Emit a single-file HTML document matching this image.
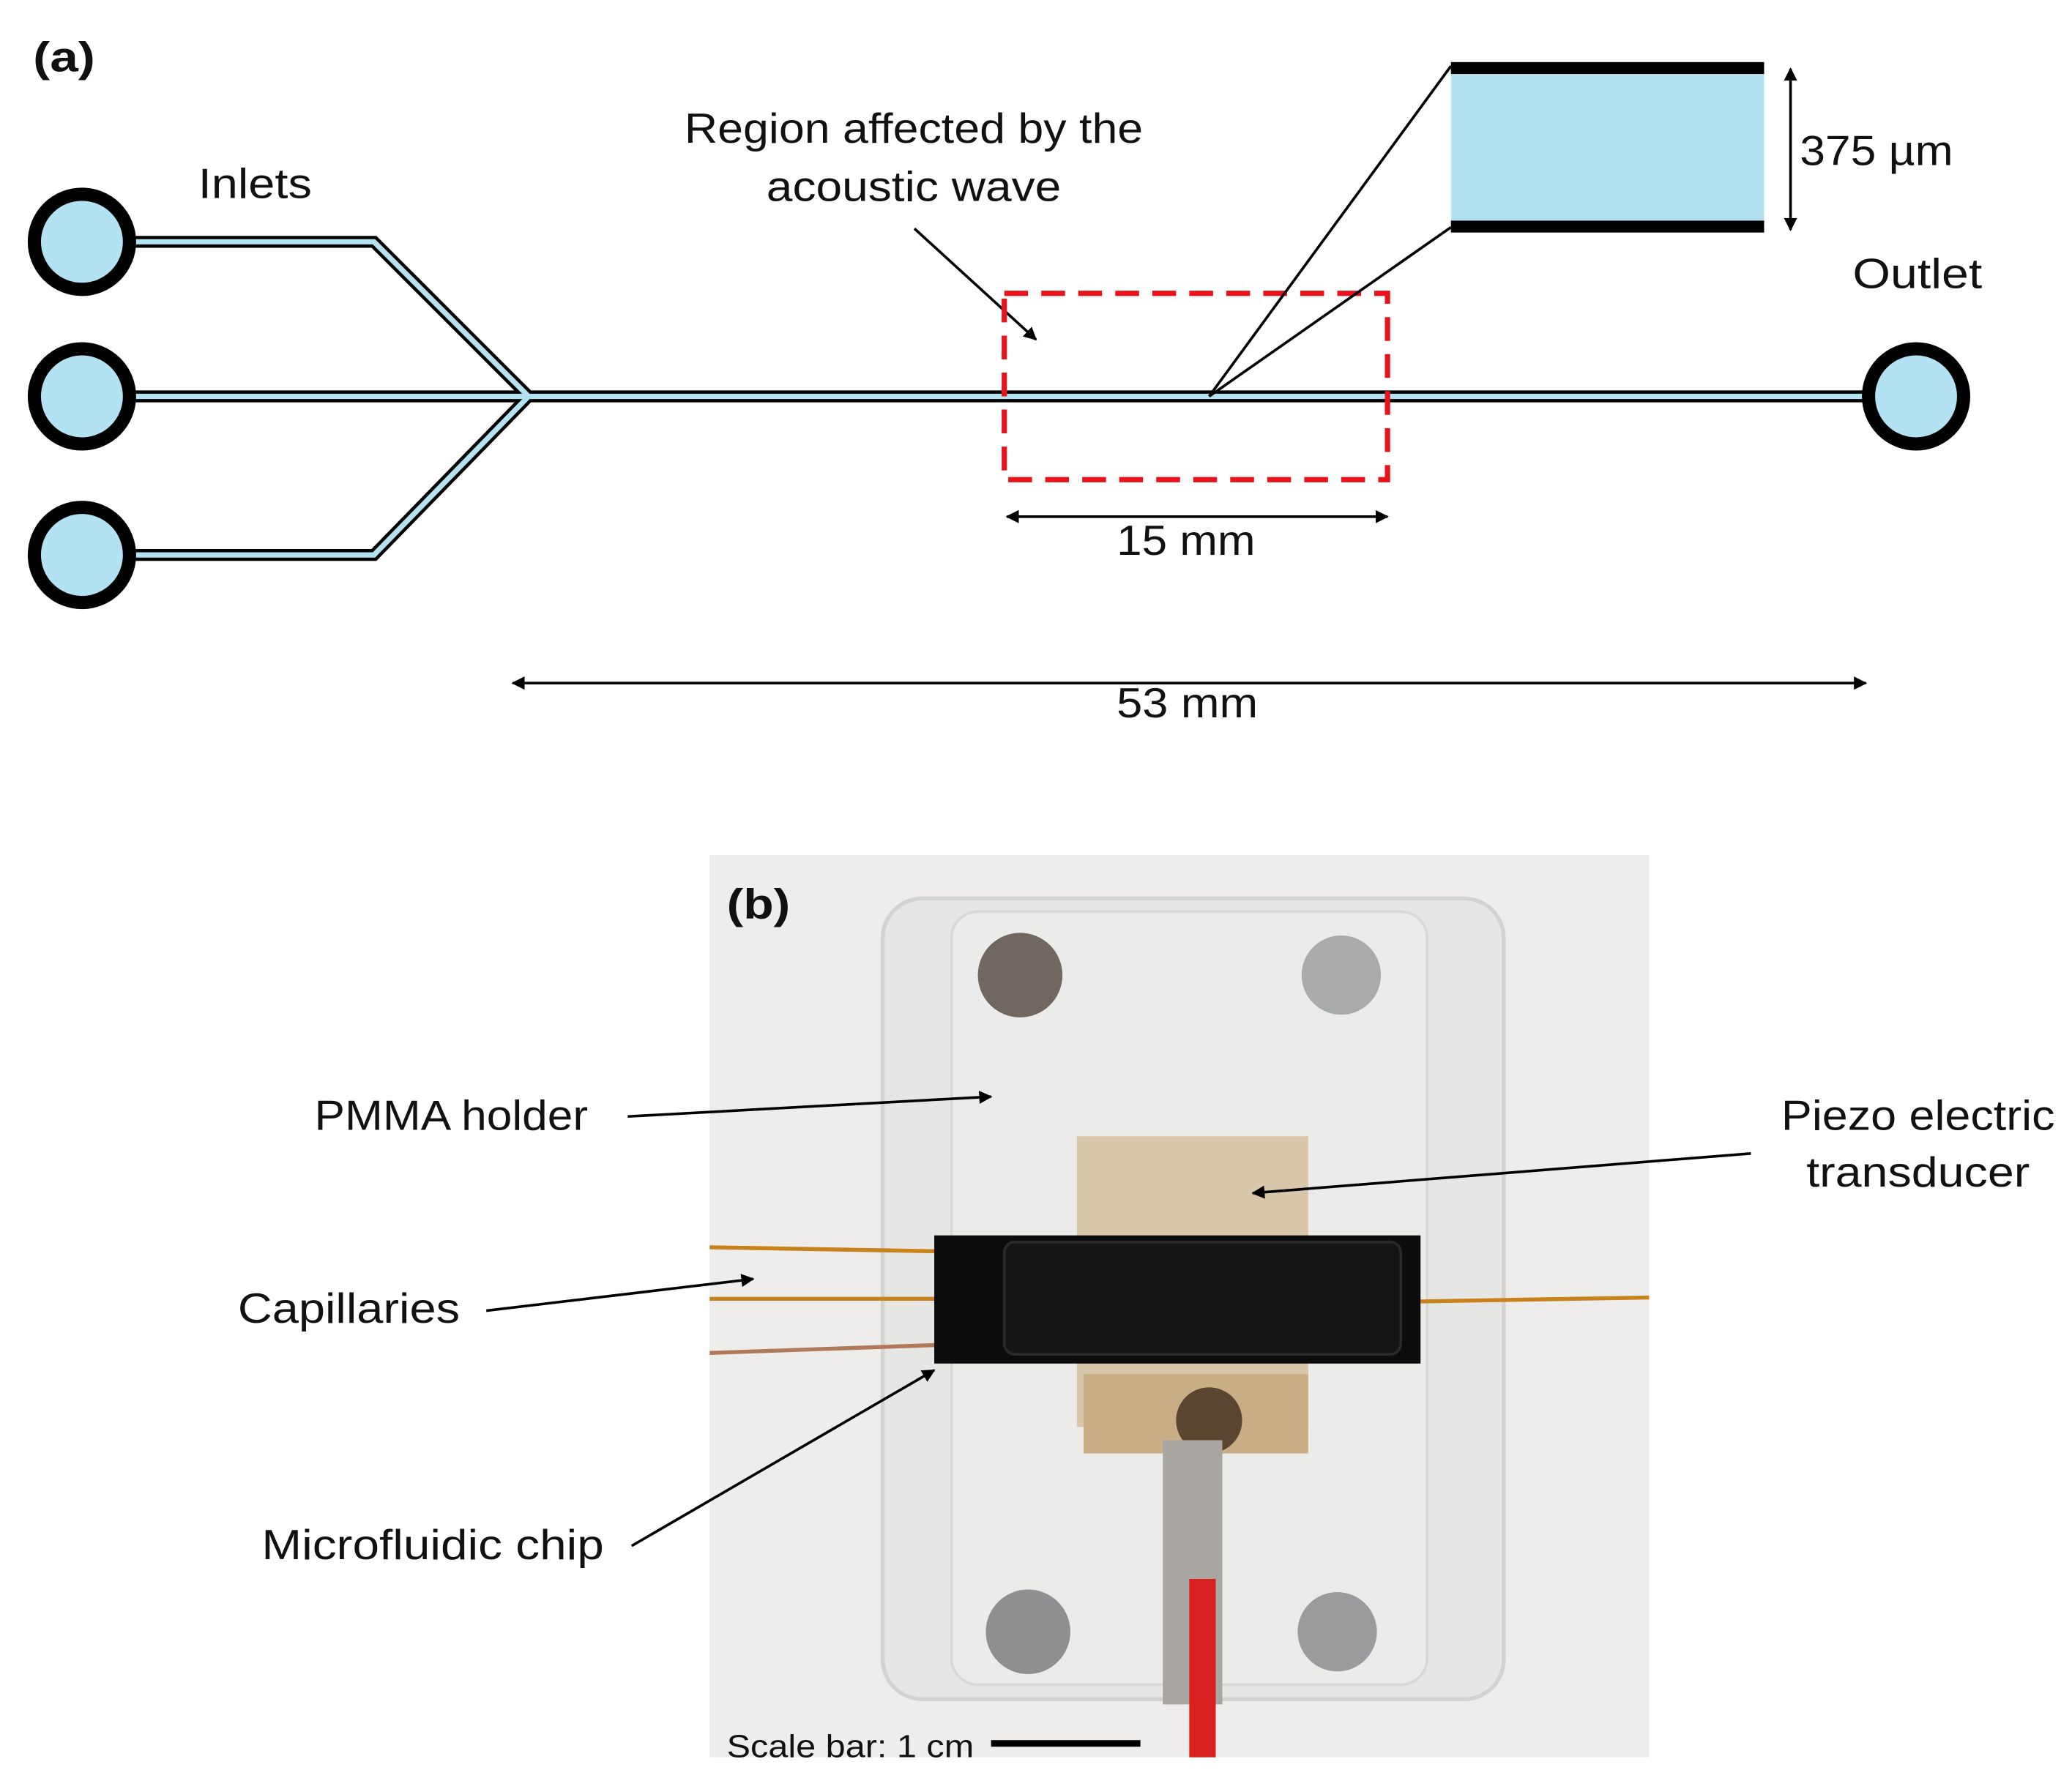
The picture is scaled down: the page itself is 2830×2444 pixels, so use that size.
<!DOCTYPE html>
<html><head><meta charset="utf-8"><style>
html,body{margin:0;padding:0;background:#fff}
svg{display:block}
text{font-family:"Liberation Sans",sans-serif;fill:#111}
</style></head><body>
<svg width="2830" height="2444" viewBox="0 0 1568 1354" preserveAspectRatio="none" xmlns="http://www.w3.org/2000/svg">
<defs>
<marker id="ah" markerWidth="10" markerHeight="10" refX="9" refY="5" orient="auto" markerUnits="userSpaceOnUse"><path d="M0,0 L10,5 L0,10 Z" fill="#000"/></marker>
<marker id="as" markerWidth="10" markerHeight="10" refX="1" refY="5" orient="auto" markerUnits="userSpaceOnUse"><path d="M10,0 L0,5 L10,10 Z" fill="#000"/></marker>
</defs>
<rect width="1568" height="1354" fill="#fff"/>
<text x="25" y="54" font-size="32" font-weight="bold" textLength="47" lengthAdjust="spacingAndGlyphs">(a)</text>
<g fill="none" stroke-linejoin="miter">
<path d="M62,183 L283,183 L400,300 M62,420 L283,420 L400,300 M62,300 L1450,300" stroke="#000" stroke-width="9"/>
<path d="M62,183 L283,183 L400,300 M62,420 L283,420 L400,300 M62,300 L1450,300" stroke="#b3e3f2" stroke-width="4"/>
</g>
<g fill="#b3e3f2" stroke="#000" stroke-width="10">
<circle cx="62" cy="183" r="36"/><circle cx="62" cy="300" r="36"/><circle cx="62" cy="420" r="36"/><circle cx="1450" cy="300" r="36"/>
</g>
<text x="150" y="150" font-size="32" textLength="86" lengthAdjust="spacingAndGlyphs">Inlets</text>
<text x="1402" y="218" font-size="32" textLength="98" lengthAdjust="spacingAndGlyphs">Outlet</text>
<text x="518" y="108" font-size="32" textLength="347" lengthAdjust="spacingAndGlyphs">Region affected by the</text>
<text x="580" y="152" font-size="32" textLength="223" lengthAdjust="spacingAndGlyphs">acoustic wave</text>
<line x1="692" y1="173" x2="784" y2="257" stroke="#000" stroke-width="2" marker-end="url(#ah)"/>
<rect x="760" y="222" width="290" height="141" fill="none" stroke="#e8141b" stroke-width="4" stroke-dasharray="18,10"/>
<line x1="915" y1="300" x2="1098" y2="50" stroke="#000" stroke-width="2"/>
<line x1="915" y1="300" x2="1098" y2="172" stroke="#000" stroke-width="2"/>
<rect x="1098" y="50" width="237" height="122" fill="#b3e3f2"/>
<rect x="1098" y="47" width="237" height="9" fill="#000"/>
<rect x="1098" y="167" width="237" height="9" fill="#000"/>
<line x1="1355" y1="52" x2="1355" y2="174" stroke="#000" stroke-width="2" marker-start="url(#as)" marker-end="url(#ah)"/>
<text x="1362" y="125" font-size="32" textLength="116" lengthAdjust="spacingAndGlyphs">375 µm</text>
<line x1="762" y1="391" x2="1050" y2="391" stroke="#000" stroke-width="2" marker-start="url(#as)" marker-end="url(#ah)"/>
<text x="845" y="420" font-size="32" textLength="105" lengthAdjust="spacingAndGlyphs">15 mm</text>
<line x1="388" y1="517" x2="1412" y2="517" stroke="#000" stroke-width="2" marker-start="url(#as)" marker-end="url(#ah)"/>
<text x="845" y="543" font-size="32" textLength="107" lengthAdjust="spacingAndGlyphs">53 mm</text>

<rect x="537" y="647" width="711" height="683" fill="#efedeb"/>
<rect x="668" y="680" width="470" height="606" rx="30" fill="#e6e6e4" stroke="#d2d2d0" stroke-width="3"/>
<rect x="720" y="690" width="360" height="585" rx="20" fill="#ebebea" stroke="#d8d8d6" stroke-width="2"/>
<rect x="815" y="860" width="175" height="220" fill="#d9c7ab"/>
<rect x="820" y="1040" width="170" height="60" fill="#c9ad84"/>
<circle cx="915" cy="1075" r="25" fill="#5a4630"/>
<rect x="880" y="1090" width="45" height="200" fill="#a9a6a2"/>
<rect x="900" y="1195" width="20" height="135" fill="#d8201f"/>
<line x1="537" y1="944" x2="708" y2="947" stroke="#c7821c" stroke-width="3"/>
<line x1="537" y1="983" x2="708" y2="983" stroke="#c7821c" stroke-width="3"/>
<line x1="537" y1="1024" x2="708" y2="1018" stroke="#b07a5a" stroke-width="3"/>
<line x1="1075" y1="985" x2="1248" y2="982" stroke="#c7821c" stroke-width="3"/>
<rect x="707" y="935" width="368" height="97" fill="#0d0c0c"/>
<rect x="760" y="940" width="300" height="85" rx="8" fill="#151515" stroke="#2a2a2a" stroke-width="2"/>
<circle cx="772" cy="738" r="32" fill="#6f6760"/>
<circle cx="1015" cy="738" r="30" fill="#a8aaab"/>
<circle cx="778" cy="1235" r="32" fill="#8d8f90"/>
<circle cx="1012" cy="1235" r="30" fill="#999b9c"/>
<text x="550" y="695" font-size="32" font-weight="bold" textLength="48" lengthAdjust="spacingAndGlyphs">(b)</text>
<text x="550" y="1330" font-size="24" textLength="187" lengthAdjust="spacingAndGlyphs">Scale bar: 1 cm</text>
<rect x="750" y="1317" width="113" height="5" fill="#000"/>
<text x="238" y="855" font-size="32" textLength="207" lengthAdjust="spacingAndGlyphs">PMMA holder</text>
<line x1="475" y1="845" x2="750" y2="830" stroke="#000" stroke-width="2" marker-end="url(#ah)"/>
<text x="1348" y="855" font-size="32" textLength="207" lengthAdjust="spacingAndGlyphs">Piezo electric</text>
<text x="1367" y="898" font-size="32" textLength="169" lengthAdjust="spacingAndGlyphs">transducer</text>
<line x1="1325" y1="873" x2="948" y2="903" stroke="#000" stroke-width="2" marker-end="url(#ah)"/>
<text x="180" y="1001" font-size="32" textLength="168" lengthAdjust="spacingAndGlyphs">Capillaries</text>
<line x1="368" y1="992" x2="570" y2="968" stroke="#000" stroke-width="2" marker-end="url(#ah)"/>
<text x="198" y="1180" font-size="32" textLength="259" lengthAdjust="spacingAndGlyphs">Microfluidic chip</text>
<line x1="478" y1="1170" x2="707" y2="1037" stroke="#000" stroke-width="2" marker-end="url(#ah)"/>
</svg>
</body></html>
